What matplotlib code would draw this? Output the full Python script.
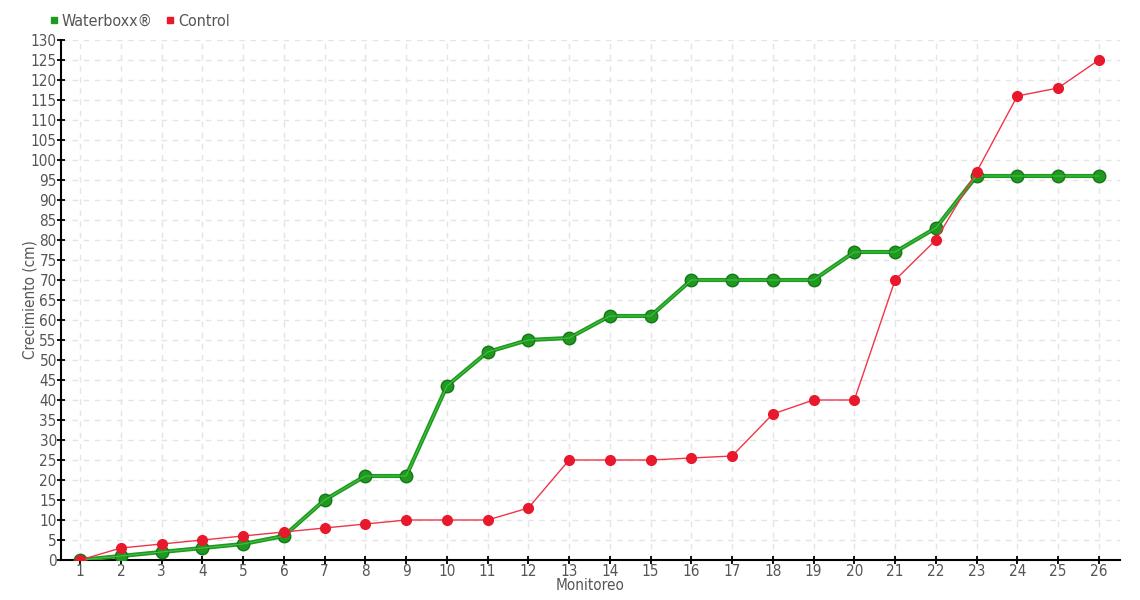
import matplotlib
matplotlib.use("Agg")
import matplotlib.pyplot as plt
from matplotlib.lines import Line2D

monitoreo = list(range(1, 27))
waterboxx = [0, 1, 2, 3, 4, 6, 15, 21, 21, 43.5, 52, 55, 55.5, 61, 61, 70, 70, 70, 70, 77, 77, 83, 96, 96, 96, 96]
control = [0, 3, 4, 5, 6, 7, 8, 9, 10, 10, 10, 13, 25, 25, 25, 25.5, 26, 36.5, 40, 40, 70, 80, 97, 116, 118, 125]

plt.rcParams['font.family'] = ['DejaVu Sans']
plt.rcParams['font.stretch'] = 'condensed'
txt = '#555555'

fig = plt.figure(figsize=(11.4, 6), dpi=100)
ax = fig.add_axes([61/1140, 40/600, (1120-61)/1140, 520/600])

ax.plot(monitoreo, waterboxx, color='#1e9a1e', lw=3.0, marker='o', ms=9,
        mfc='#1e9a1e', mec='#17751a', mew=1, zorder=3, solid_joinstyle='round')
ax.plot(monitoreo, waterboxx, color='#4cc24c', lw=0.7, zorder=3.1)
ax.plot(monitoreo, control, color='#f0354a', lw=1, marker='o', ms=7,
        mfc='#e8192c', mec='#e8192c', zorder=4)

ax.set_xlim(0.53, 26.52)
ax.set_ylim(0, 130)
ax.set_xticks(monitoreo)
ax.set_yticks(range(0, 131, 5))
ax.grid(True, color='#e4e4e4', ls=(0, (4, 4)), lw=1)
ax.set_axisbelow(True)
for s in ['top', 'right']:
    ax.spines[s].set_visible(False)
for s in ['left', 'bottom']:
    ax.spines[s].set_linewidth(1.5)
    ax.spines[s].set_color('black')
ax.tick_params(direction='inout', length=6, width=1.3, colors='black',
               labelcolor=txt, labelsize=11, pad=0)
ax.set_xlabel('Monitoreo', color=txt, fontsize=11, labelpad=-1)
ax.set_ylabel('Crecimiento (cm)', color=txt, fontsize=11, labelpad=-5)

handles = [Line2D([], [], ls='none', marker='s', ms=5, color='#1e9a1e'),
           Line2D([], [], ls='none', marker='s', ms=5, color='#e8192c')]
leg = fig.legend(handles, ['Waterboxx®', 'Control'], loc='upper left',
                 bbox_to_anchor=(49/1140, 1 - 14/600), ncol=2, frameon=False,
                 fontsize=11.5, handlelength=0.6, handletextpad=0.2,
                 columnspacing=0.8, borderaxespad=0, borderpad=0)
for t in leg.get_texts():
    t.set_color(txt)

fig.savefig('out.png', dpi=100)
